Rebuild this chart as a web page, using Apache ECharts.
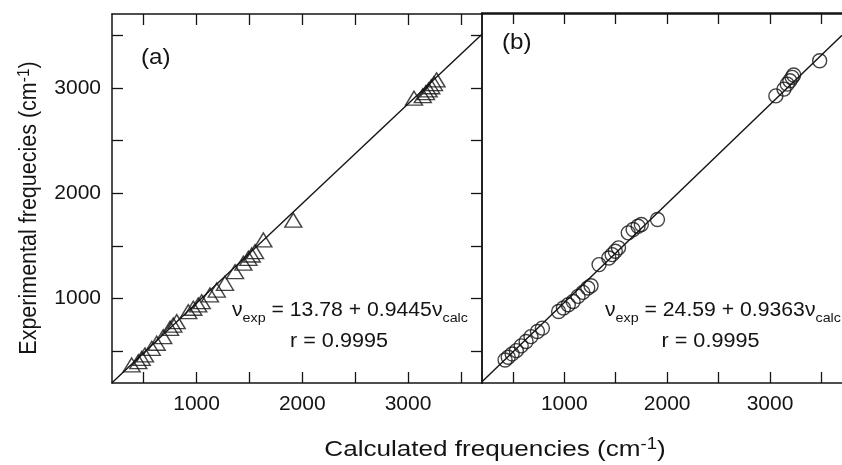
<!DOCTYPE html>
<html><head><meta charset="utf-8">
<script src="https://cdn.jsdelivr.net/npm/echarts@6/dist/echarts.min.js"></script>
<style>html,body{margin:0;padding:0;background:#fff}#c{width:842px;height:465px}</style>
</head><body><div id="c"></div>
<script>
// Panel (a): calculated vs experimental (triangles)
const calcA = [386, 449, 481, 512, 576, 623, 685, 749, 780, 812, 922, 969, 1016, 1049, 1127, 1191, 1269, 1364, 1443, 1490, 1522, 1553, 1632, 1915, 3057, 3140, 3170, 3195, 3220, 3245, 3270];
const expA  = [371, 402, 434, 466, 529, 577, 639, 719, 750, 782, 876, 909, 940, 971, 1035, 1082, 1146, 1256, 1336, 1383, 1414, 1446, 1557, 1745, 2901, 2925, 2955, 2980, 3010, 3040, 3075];
// Panel (b): calculated vs experimental (circles)
const calcB = [424, 455, 493, 534, 581, 629, 676, 739, 787, 945, 992, 1039, 1086, 1134, 1181, 1228, 1260, 1338, 1433, 1465, 1496, 1527, 1622, 1669, 1717, 1749, 1906, 3057, 3136, 3168, 3193, 3215, 3230, 3483];
const expB  = [418, 444, 475, 506, 551, 592, 639, 687, 719, 876, 909, 940, 971, 1019, 1057, 1098, 1120, 1320, 1383, 1414, 1446, 1478, 1620, 1652, 1683, 1699, 1747, 2916, 2980, 3027, 3059, 3091, 3113, 3248];
// Fit line end points
const fitA = [[200, 203], [3700, 3508]];
const fitB = [[200, 212], [3700, 3489]];
// Axes
const axisMin = 200, axisMax = 3700;
const tickValues = [500, 1000, 1500, 2000, 2500, 3000, 3500];
const labelValues = [1000, 2000, 3000];

const FONT = '"Liberation Sans", Arial, sans-serif';
const INK = '#141414';

function axis(grid, position, o) {
  o = o || {};
  return {
    type: 'value', gridIndex: grid, position: position,
    min: axisMin, max: axisMax,
    axisLine: { show: true, onZero: false, lineStyle: { color: INK, width: o.lineWidth || 1.5 } },
    axisTick: { show: o.ticks !== false, inside: true, length: 11, customValues: tickValues,
      lineStyle: { color: INK, width: 1.3 } },
    axisLabel: { show: !!o.labels, customValues: labelValues, fontFamily: FONT, fontSize: 21,
      color: INK, margin: 11, formatter: v => String(v) },
    splitLine: { show: false }
  };
}

const pts = (xs, ys) => xs.map((x, i) => [x, ys[i]]);

const xTitleRich = {
  m: { fontFamily: FONT, fontSize: 22.5, lineHeight: 26, fill: INK },
  s: { fontFamily: FONT, fontSize: 16, lineHeight: 18, verticalAlign: 'top', fill: INK }
};
const yTitleRich = {
  m: { fontFamily: FONT, fontSize: 21.5, lineHeight: 25, fill: INK },
  s: { fontFamily: FONT, fontSize: 15.5, lineHeight: 17, verticalAlign: 'top', fill: INK }
};
const formRich = {
  m: { fontFamily: FONT, fontSize: 20, lineHeight: 30, fill: INK },
  s: { fontFamily: FONT, fontSize: 13.5, lineHeight: 14, verticalAlign: 'bottom', fill: INK }
};

const chart = echarts.init(document.getElementById('c'), null, { renderer: 'canvas' });
chart.setOption({
  animation: false,
  backgroundColor: '#fff',
  grid: [
    { left: 112, top: 14, width: 370, height: 369 },
    { left: 482, top: 13, width: 370, height: 370 }
  ],
  xAxis: [
    axis(0, 'bottom', { labels: true }),
    axis(0, 'top'),
    axis(1, 'bottom', { labels: true }),
    axis(1, 'top', { lineWidth: 2.6 })
  ],
  yAxis: [
    axis(0, 'left', { labels: true }),
    axis(0, 'right'),
    axis(1, 'left', { ticks: false })
  ],
  series: [
    { type: 'line', xAxisIndex: 0, yAxisIndex: 0, data: fitA, showSymbol: false, symbol: 'none',
      lineStyle: { color: INK, width: 1.4 }, clip: true, silent: true, z: 1 },
    { type: 'scatter', xAxisIndex: 0, yAxisIndex: 0, data: pts(calcA, expA), symbol: 'triangle',
      symbolSize: [17, 14], itemStyle: { color: 'rgba(0,0,0,0)', borderColor: INK, borderWidth: 1.4 }, z: 2 },
    { type: 'line', xAxisIndex: 2, yAxisIndex: 2, data: fitB, showSymbol: false, symbol: 'none',
      lineStyle: { color: INK, width: 1.4 }, clip: true, silent: true, z: 1 },
    { type: 'scatter', xAxisIndex: 2, yAxisIndex: 2, data: pts(calcB, expB), symbol: 'circle',
      symbolSize: 14, itemStyle: { color: 'rgba(0,0,0,0)', borderColor: INK, borderWidth: 1.4 }, z: 2 }
  ],
  graphic: [
    { type: 'text', x: 29, y: 208, rotation: Math.PI / 2, scaleY: 1.1,
      style: { text: '{m|Experimental frequecies (cm}{s|-1}{m|)}', align: 'center', verticalAlign: 'middle',
        fill: INK, rich: yTitleRich } },
    { type: 'text', x: 495, y: 450, scaleX: 1.16,
      style: { text: '{m|Calculated frequencies (cm}{s|-1}{m|)}', align: 'center', verticalAlign: 'middle',
        fill: INK, rich: xTitleRich } },
    { type: 'text', x: 141, y: 57.5, scaleX: 1.1, style: { text: '(a)', fontFamily: FONT, fontSize: 22, fill: INK, align: 'left', verticalAlign: 'middle' } },
    { type: 'text', x: 502, y: 42.5, scaleX: 1.1, style: { text: '(b)', fontFamily: FONT, fontSize: 22, fill: INK, align: 'left', verticalAlign: 'middle' } },
    { type: 'text', x: 232, y: 310, scaleX: 1.06,
      style: { text: '{m|ν}{s|exp}{m| = 13.78 + 0.9445ν}{s|calc}', align: 'left', verticalAlign: 'middle', rich: formRich } },
    { type: 'text', x: 339, y: 341.5, scaleX: 1.08, style: { text: 'r = 0.9995', fontFamily: FONT, fontSize: 20, fill: INK, align: 'center', verticalAlign: 'middle' } },
    { type: 'text', x: 605, y: 310, scaleX: 1.06,
      style: { text: '{m|ν}{s|exp}{m| = 24.59 + 0.9363ν}{s|calc}', align: 'left', verticalAlign: 'middle', rich: formRich } },
    { type: 'text', x: 710.5, y: 341.5, scaleX: 1.08, style: { text: 'r = 0.9995', fontFamily: FONT, fontSize: 20, fill: INK, align: 'center', verticalAlign: 'middle' } }
  ]
});
</script></body></html>
